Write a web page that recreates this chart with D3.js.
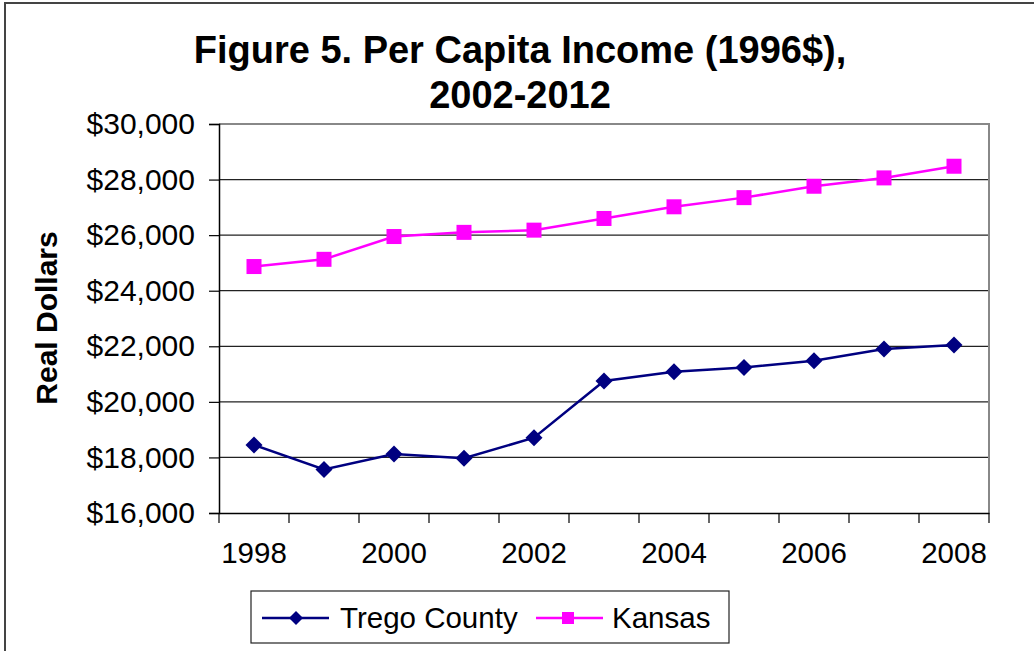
<!DOCTYPE html>
<html>
<head>
<meta charset="utf-8">
<script src="https://cdn.jsdelivr.net/npm/d3@7"></script>
<style>
  html, body { margin: 0; padding: 0; background: #fff; }
  svg { display: block; font-family: "Liberation Sans", Arial, sans-serif; }
</style>
</head>
<body>
<svg id="chart" width="1034" height="651"></svg>
<script>
// ---- data ----
const years = ["1998","1999","2000","2001","2002","2003","2004","2005","2006","2007","2008"];
const trego = [18450, 17570, 18120, 17970, 18710, 20750, 21080, 21240, 21480, 21900, 22050];
const kansas = [24870, 25130, 25950, 26100, 26180, 26600, 27020, 27350, 27760, 28060, 28480];
const yTicks = [16000, 18000, 20000, 22000, 24000, 26000, 28000, 30000];
const xLabelYears = ["1998","2000","2002","2004","2006","2008"];
const titleLines = ["Figure 5. Per Capita Income (1996$),", "2002-2012"];
const yTitle = "Real Dollars";
const seriesNames = ["Trego County", "Kansas"];

const svg = d3.select("#chart");

// outer frame
svg.append("rect").attr("x", 5).attr("y", 3).attr("width", 1040).attr("height", 660)
  .attr("fill", "none").attr("stroke", "#444").attr("stroke-width", 2);

const L = 219, R = 989, T = 124, B = 513;
const x = d3.scaleBand().domain(years).range([L, R]).padding(0);
const y = d3.scaleLinear().domain([16000, 30000]).range([B, T]);

// gridlines
svg.append("g").selectAll("line").data(yTicks.filter(d => d !== 16000 && d !== 30000)).join("line")
  .attr("x1", L).attr("x2", R).attr("y1", d => y(d)).attr("y2", d => y(d))
  .attr("stroke", "#222").attr("stroke-width", 1.2);

// plot border top and right (gray)
svg.append("path").attr("d", `M${L},${T}H${R}V${B}`).attr("fill", "none")
  .attr("stroke", "#888").attr("stroke-width", 2);

// y axis
const yAxis = svg.append("g").attr("transform", `translate(${L},0)`)
  .call(d3.axisLeft(y).tickValues(yTicks).tickFormat(d3.format("$,")).tickSize(10).tickPadding(14));
yAxis.select(".domain").attr("stroke", "#000").attr("stroke-width", 1.5);
yAxis.selectAll(".tick line").attr("stroke", "#000").attr("stroke-width", 1.2);
yAxis.selectAll(".tick text").attr("font-size", 30).attr("fill", "#000")
  .attr("font-family", "Liberation Sans, Arial, sans-serif");

// x axis: labels at centers of every other category
const xAxis = svg.append("g").attr("transform", `translate(0,${B})`)
  .call(d3.axisBottom(x).tickValues(xLabelYears).tickSize(0).tickPadding(29));
xAxis.select(".domain").attr("stroke", "#000").attr("stroke-width", 1.5);
xAxis.selectAll(".tick text").attr("font-size", 29.5).attr("fill", "#000")
  .attr("font-family", "Liberation Sans, Arial, sans-serif");

// x tick marks at category boundaries
const bounds = years.map(d => x(d)).concat([x(years[years.length - 1]) + x.bandwidth()]);
svg.append("g").selectAll("line").data(bounds).join("line")
  .attr("x1", d => d).attr("x2", d => d).attr("y1", B).attr("y2", B + 10)
  .attr("stroke", "#000").attr("stroke-width", 1.2);

const cx = d => x(d) + x.bandwidth() / 2;
const line = d3.line().x(d => cx(d.year)).y(d => y(d.v));

const tData = years.map((yr, i) => ({year: yr, v: trego[i]}));
const kData = years.map((yr, i) => ({year: yr, v: kansas[i]}));

// Kansas
svg.append("path").datum(kData).attr("d", line).attr("fill", "none")
  .attr("stroke", "#FF00FF").attr("stroke-width", 2.5);
svg.append("g").selectAll("rect").data(kData).join("rect")
  .attr("x", d => cx(d.year) - 7.5).attr("y", d => y(d.v) - 7.5)
  .attr("width", 15).attr("height", 15).attr("fill", "#FF00FF");

// Trego
svg.append("path").datum(tData).attr("d", line).attr("fill", "none")
  .attr("stroke", "#000080").attr("stroke-width", 2.5);
const diamond = (px, py, r) => `M${px},${py - r}L${px + r},${py}L${px},${py + r}L${px - r},${py}Z`;
svg.append("g").selectAll("path").data(tData).join("path")
  .attr("d", d => diamond(cx(d.year), y(d.v), 8.5)).attr("fill", "#000080");

// title
svg.append("text").attr("x", 520).attr("y", 63).attr("text-anchor", "middle")
  .attr("font-size", 38).attr("font-weight", "bold").text(titleLines[0]);
svg.append("text").attr("x", 520).attr("y", 108).attr("text-anchor", "middle")
  .attr("font-size", 38).attr("font-weight", "bold").text(titleLines[1]);

// y title
svg.append("text").attr("transform", `translate(57,318) rotate(-90)`).attr("text-anchor", "middle")
  .attr("font-size", 30).attr("font-weight", "bold").text(yTitle);

// legend
const lg = svg.append("g");
lg.append("rect").attr("x", 251).attr("y", 591).attr("width", 478).attr("height", 52)
  .attr("fill", "#fff").attr("stroke", "#222").attr("stroke-width", 1.2);
const ly = 618;
lg.append("line").attr("x1", 262).attr("x2", 329).attr("y1", ly).attr("y2", ly)
  .attr("stroke", "#000080").attr("stroke-width", 2.5);
lg.append("path").attr("d", diamond(296, ly, 7)).attr("fill", "#000080");
lg.append("text").attr("x", 340).attr("y", ly + 10).attr("font-size", 29.5).text(seriesNames[0]);
lg.append("line").attr("x1", 536).attr("x2", 603).attr("y1", ly).attr("y2", ly)
  .attr("stroke", "#FF00FF").attr("stroke-width", 2.5);
lg.append("rect").attr("x", 562).attr("y", ly - 6).attr("width", 12).attr("height", 12).attr("fill", "#FF00FF");
lg.append("text").attr("x", 612).attr("y", ly + 10).attr("font-size", 29.5).text(seriesNames[1]);
</script>
</body>
</html>
